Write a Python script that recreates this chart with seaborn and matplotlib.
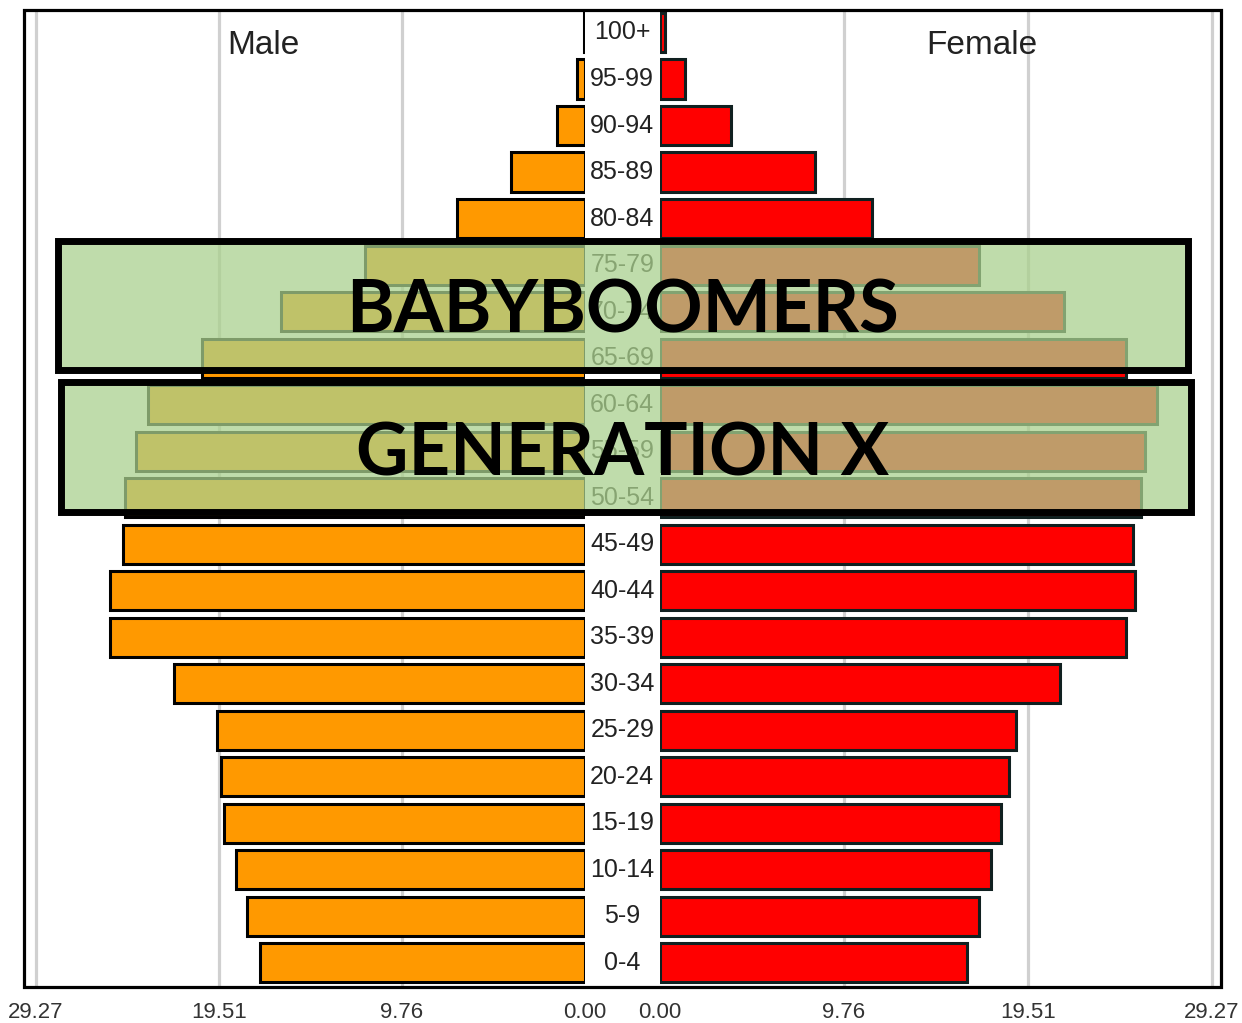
import matplotlib
matplotlib.use('Agg')
import matplotlib.pyplot as plt
import seaborn as sns
import pandas as pd
from matplotlib.patches import Rectangle

# age groups, top to bottom
ages = ['100+', '95-99', '90-94', '85-89', '80-84', '75-79', '70-74',
        '65-69', '60-64', '55-59', '50-54', '45-49', '40-44', '35-39',
        '30-34', '25-29', '20-24', '15-19', '10-14', '5-9', '0-4']
male = [0.05, 0.4, 1.5, 3.95, 6.8, 11.7, 16.2, 20.4, 23.3, 23.9, 24.5,
        24.6, 25.3, 25.3, 21.9, 19.6, 19.4, 19.25, 18.6, 18.0, 17.3]
female = [0.27, 1.33, 3.76, 8.2, 11.24, 16.9, 21.4, 24.7, 26.35, 25.7, 25.5,
          25.1, 25.2, 24.7, 21.2, 18.9, 18.5, 18.1, 17.55, 16.9, 16.3]
ticks = [0, 9.76, 19.51, 29.27]
tick_labels = ['0.00', '9.76', '19.51', '29.27']
groups = ['BABYBOOMERS', 'GENERATION X']

sns.set_theme(style='white')
plt.rcParams['font.family'] = ['Liberation Sans', 'DejaVu Sans']

W, H = 1242, 1023
fig = plt.figure(figsize=(W / 100, H / 100), dpi=100)


def frac(x0, y0, x1, y1):
    # pixel box (top-left origin) -> figure fraction rect
    return [x0 / W, 1 - y1 / H, (x1 - x0) / W, (y1 - y0) / H]


axL = fig.add_axes(frac(25, 12, 585, 988))
axR = fig.add_axes(frac(660, 12, 1220, 988))

df = pd.DataFrame({'age': ages, 'male': male, 'female': female})
sns.barplot(data=df, x='male', y='age', orient='h', ax=axL, color='#ff9900',
            saturation=1, edgecolor='black', linewidth=2.2, width=0.84, zorder=2)
sns.barplot(data=df, x='female', y='age', orient='h', ax=axR, color='#ff0000',
            saturation=1, edgecolor='#102020', linewidth=2.2, width=0.84, zorder=2)

axL.set_xlim(29.84, 0)
axR.set_xlim(0, 29.7)
for ax in (axL, axR):
    ax.set_ylim(20.54, -0.44)
    for t in ticks[1:]:
        ax.axvline(t, color='#d0d0d0', lw=2.3, zorder=0)
    ax.set_xticks(ticks, tick_labels)
    ax.tick_params(axis='x', labelsize=16, length=0, pad=10, colors='#333333')
    ax.set_yticks([])
    ax.set_xlabel('')
    ax.set_ylabel('')
    for s in ax.spines.values():
        s.set_visible(False)

for i, a in enumerate(ages):
    axL.text(1.0666, i, a, transform=axL.get_yaxis_transform(), ha='center',
             va='center', fontsize=18, color='#222222', clip_on=False)

fig.text(263 / W, 1 - 45 / H, 'Male', fontsize=24, ha='center', va='center', color='#222222')
fig.text(982 / W, 1 - 45 / H, 'Female', fontsize=24, ha='center', va='center', color='#222222')

# outer frame
x0, y0, x1, y1 = 23.5, 10, 1221, 987
fig.add_artist(Rectangle((x0 / W, 1 - y1 / H), (x1 - x0) / W, (y1 - y0) / H,
                         transform=fig.transFigure, fill=False,
                         edgecolor='black', lw=2.3, zorder=5))

# generation overlays
boxes = [(57.5, 240.5, 1187.5, 369.5), (60.5, 381.5, 1190.5, 511.5)]
baselines = [333, 476]
for name, (bx0, by0, bx1, by1), base in zip(groups, boxes, baselines):
    fig.add_artist(Rectangle((bx0 / W, 1 - by1 / H), (bx1 - bx0) / W, (by1 - by0) / H,
                             transform=fig.transFigure,
                             facecolor=(170 / 255, 209 / 255, 142 / 255, 0.745),
                             edgecolor='black', lw=5, zorder=10))
    fig.text(623 / W, 1 - base / H, name, fontsize=52, fontweight='bold',
             family=['Lato', 'DejaVu Sans'], ha='center', va='baseline',
             color='black', zorder=11)

fig.savefig('out.png', dpi=100)
